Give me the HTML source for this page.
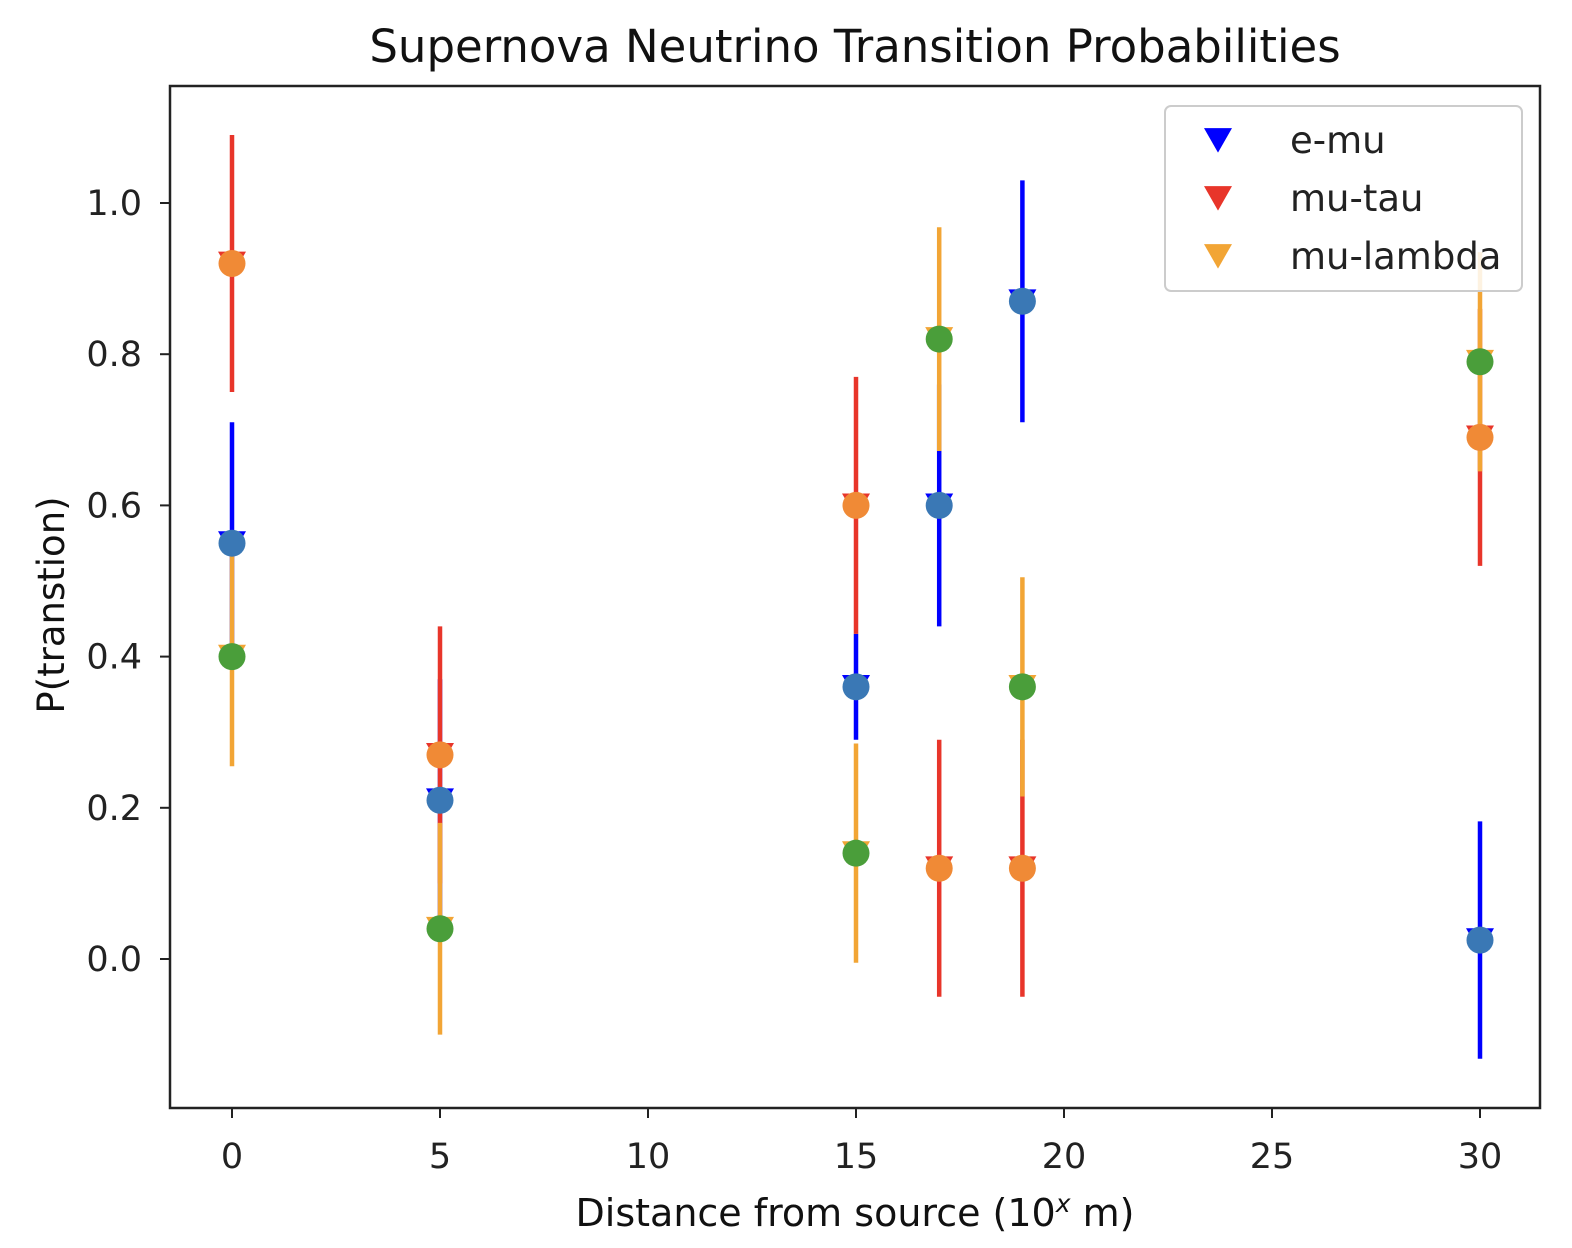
<!DOCTYPE html>
<html><head><meta charset="utf-8"><style>
body{margin:0;background:#fff;}
svg{display:block;font-family:"DejaVu Sans","Liberation Sans",sans-serif;}
</style></head><body>
<svg id="chart" width="1572" height="1248" viewBox="0 0 1572 1248" xmlns="http://www.w3.org/2000/svg">
<rect width="1572" height="1248" fill="#fff"/>
<text x="855" y="62" font-size="45" text-anchor="middle" fill="#111">Supernova Neutrino Transition Probabilities</text>
<g id="marks"></g>
<g id="axes"></g>
<rect x="170" y="86" width="1370" height="1022" fill="none" stroke="#222" stroke-width="2.5"/>
<text x="855" y="1226" font-size="38" text-anchor="middle" fill="#111">Distance from source (10<tspan font-size="25" dy="-14" font-style="italic">x</tspan><tspan dy="14"> m)</tspan></text>
<text transform="translate(64,605) rotate(-90)" font-size="37" text-anchor="middle" fill="#111">P(transtion)</text>
<g>
<rect x="1165" y="106" width="357" height="185" rx="6" fill="#fff" fill-opacity="0.85" stroke="#ccc" stroke-width="2"/>
<g id="legend-items"></g>
</g>
</svg>
<script>
const xVals = [0, 5, 15, 17, 19, 30];
const emu = [0.55, 0.21, 0.36, 0.60, 0.87, 0.025];
const mutau = [0.92, 0.27, 0.60, 0.12, 0.12, 0.69];
const mulambda = [0.40, 0.04, 0.14, 0.82, 0.36, 0.79];
const emuErr = [0.16, 0.16, 0.07, 0.16, 0.16, 0.157];
const mutauErr = [0.17, 0.17, 0.17, 0.17, 0.17, 0.17];
const mulambdaErr = [0.145, 0.14, 0.145, 0.148, 0.145, 0.145];
const xTicks = [0, 5, 10, 15, 20, 25, 30];
const yTicks = [0.0, 0.2, 0.4, 0.6, 0.8, 1.0];
const seriesNames = ["e-mu", "mu-tau", "mu-lambda"];

const NS = "http://www.w3.org/2000/svg";
const X = v => 232 + v * 41.6;
const Y = v => 959 - v * 756;
function mk(tag, attrs, parent) {
  const e = document.createElementNS(NS, tag);
  for (const k in attrs) e.setAttribute(k, attrs[k]);
  parent.appendChild(e);
  return e;
}
const marks = document.getElementById("marks");
const axes = document.getElementById("axes");
const series = [
  {vals: emu, err: emuErr, line: "#0000ff", circ: "#3a78b5"},
  {vals: mutau, err: mutauErr, line: "#e8352a", circ: "#f08a36"},
  {vals: mulambda, err: mulambdaErr, line: "#f2a535", circ: "#4a9e3a"}
];
function tri(cx, cy, s) {
  return `${cx - s},${cy - s * 0.85} ${cx + s},${cy - s * 0.85} ${cx},${cy + s * 0.9}`;
}
series.forEach((s, si) => {
  s.vals.forEach((v, i) => {
    const l = mk("line", {x1: X(xVals[i]), x2: X(xVals[i]), y1: Y(v - s.err[i]), y2: Y(v + s.err[i]), stroke: s.line, "stroke-width": 4.5}, marks);
    
    
    const t = mk("polygon", {points: tri(X(xVals[i]), Y(v), 14), fill: s.line}, marks);
    
    
  });
});
series.forEach((s, si) => {
  s.vals.forEach((v, i) => {
    const c = mk("circle", {cx: X(xVals[i]), cy: Y(v), r: 13.5, fill: s.circ}, marks);
    
    
  });
});
xTicks.forEach(t => {
  const l = mk("line", {x1: X(t), x2: X(t), y1: 1108, y2: 1118, stroke: "#222", "stroke-width": 2}, axes);
  
  
  const tx = mk("text", {x: X(t), y: 1168, "font-size": 35, "text-anchor": "middle", fill: "#222"}, axes);
  tx.textContent = t;
  
  
});
yTicks.forEach(t => {
  const l = mk("line", {x1: 160, x2: 170, y1: Y(t), y2: Y(t), stroke: "#222", "stroke-width": 2}, axes);
  
  
  const tx = mk("text", {x: 142, y: Y(t) + 12, "font-size": 35, "text-anchor": "end", fill: "#222"}, axes);
  tx.textContent = t.toFixed(1);
  
  
});
const leg = document.getElementById("legend-items");
seriesNames.forEach((n, i) => {
  const y = 140 + i * 58;
  const t = mk("polygon", {points: tri(1218, y, 14), fill: series[i].line}, leg);
  
  
  const tx = mk("text", {x: 1290, y: y + 13, "font-size": 37, fill: "#222"}, leg);
  tx.textContent = n;
  
  
});
</script>
</body></html>
